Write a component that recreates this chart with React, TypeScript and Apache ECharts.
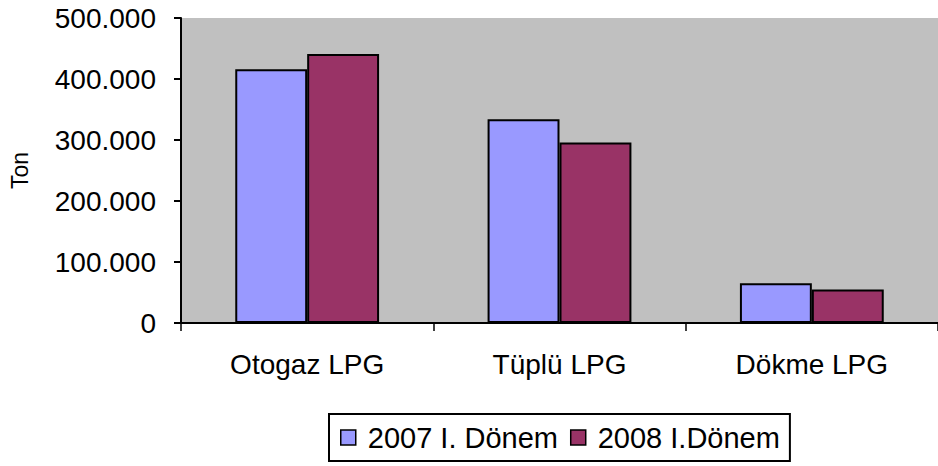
import React, { useEffect, useRef } from "react";
import * as echarts from "echarts";

const categories = ["Otogaz LPG", "Tüplü LPG", "Dökme LPG"];
const seriesNames = ["2007 I. Dönem", "2008 I.Dönem"];
const values2007 = [416000, 334000, 65000];
const values2008 = [441000, 296000, 55000];
const yTicks = [0, 100000, 200000, 300000, 400000, 500000];

const FONT = "'Liberation Sans', Arial, sans-serif";

function fmt(v: number): string {
  if (v === 0) return "0";
  const s = String(Math.round(v));
  return s.replace(/\B(?=(\d{3})+(?!\d))/g, ".");
}

export default function App() {
  const ref = useRef<HTMLDivElement>(null);
  useEffect(() => {
    if (!ref.current) return;
    const chart = echarts.init(ref.current, undefined, { renderer: "svg" });
    chart.setOption({
      animation: false,
      backgroundColor: "#ffffff",
      textStyle: { fontFamily: FONT },
      grid: {
        left: 178,
        top: 18,
        right: -8,
        bottom: 143,
        show: true,
        backgroundColor: "#C0C0C0",
        borderWidth: 0,
      },
      legend: {
        data: seriesNames,
        left: 329,
        top: 414,
        orient: "horizontal",
        icon: "rect",
        itemWidth: 15,
        itemHeight: 15,
        itemGap: 12,
        padding: [9, 10, 9, 11],
        borderColor: "#000",
        borderWidth: 2,
        textStyle: { fontFamily: FONT, fontSize: 29, color: "#000", padding: [0, 0, 0, 7] },
        itemStyle: { borderColor: "#000", borderWidth: 1.5 },
      },
      xAxis: {
        type: "category",
        data: categories,
        boundaryGap: true,
        axisLine: { show: true, lineStyle: { color: "#000", width: 2 } },
        axisTick: { show: true, alignWithLabel: false, length: 8, lineStyle: { color: "#000", width: 1.5 } },
        axisLabel: { fontFamily: FONT, fontSize: 28, color: "#000", margin: 27 },
        splitLine: { show: false },
      },
      yAxis: {
        type: "value",
        min: yTicks[0],
        max: yTicks[yTicks.length - 1],
        interval: yTicks[1] - yTicks[0],
        name: "Ton",
        nameLocation: "middle",
        nameRotate: 90,
        nameGap: 150,
        nameTextStyle: { fontFamily: FONT, fontSize: 23, color: "#000" },
        axisLine: { show: true, lineStyle: { color: "#000", width: 2 } },
        axisTick: { show: true, length: 7, lineStyle: { color: "#000", width: 2 } },
        axisLabel: {
          fontFamily: FONT,
          fontSize: 28,
          color: "#000",
          margin: 25,
          formatter: (v: number) => fmt(v),
        },
        splitLine: { show: false },
      },
      series: [
        {
          name: seriesNames[0],
          type: "bar",
          data: values2007,
          barGap: "0%",
          barCategoryGap: "43%",
          itemStyle: { color: "#9999FF", borderColor: "#000", borderWidth: 2 },
        },
        {
          name: seriesNames[1],
          type: "bar",
          data: values2008,
          barGap: "0%",
          barCategoryGap: "43%",
          itemStyle: { color: "#993366", borderColor: "#000", borderWidth: 2 },
        },
      ],
    });
    return () => chart.dispose();
  }, []);
  return <div ref={ref} style={{ width: 938, height: 466, position: "absolute", left: 0, top: 0 }} />;
}
